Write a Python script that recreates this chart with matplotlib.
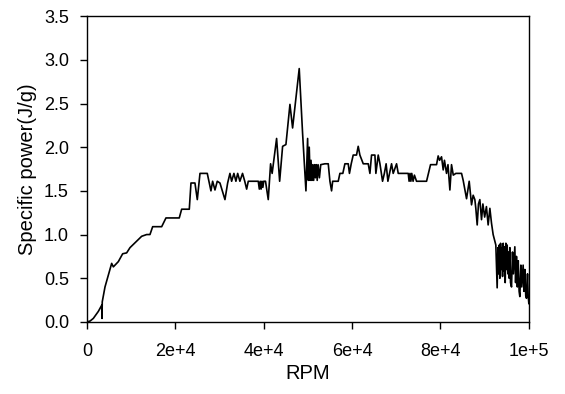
import matplotlib
matplotlib.use("Agg")
import matplotlib.pyplot as plt

plt.rcParams['font.family'] = ['Liberation Sans', 'DejaVu Sans']

# rpm vs specific power
rpm = [0, 0, 700, 1430, 2560, 3320, 3400, 3450, 4070, 5580, 5960, 7090, 8070, 8970, 9730,
       12370, 13500, 14250, 14860, 16900, 17870, 20880, 21420, 23150, 23530, 24430, 24960,
       25570, 27220, 28050, 28430, 28960, 29480, 30090, 31220, 31830, 32350, 32730, 33250,
       33700, 34100, 34600, 35200, 35700, 36130, 36500, 38760, 39000, 39200, 39400, 39600,
       39800, 40000, 40400, 41020, 41550, 41900, 42910, 43600, 44270, 45020, 45930, 46530,
       48030, 48790, 49550, 49930, 50100, 50300, 50500, 50700, 50900, 51100, 51300, 51500,
       51700, 51900, 52100, 52300, 52600, 52900, 53850, 54600, 54980, 55350, 55600, 56860,
       57240, 57900, 58370, 59120, 59400, 59800, 60250, 61000, 61380, 61760, 62520, 63650,
       64030, 64400, 65160, 65380, 65910, 66300, 66890, 67300, 67700, 68100, 68930, 69300,
       70060, 70440, 72700, 72900, 73100, 73300, 73500, 73800, 74100, 74580, 75000, 76850,
       77750, 79110, 79480, 79800, 80240, 80620, 80900, 81370, 81700, 82130, 82500, 82900,
       83480, 84770, 85140, 85900, 86500, 87030, 87400, 87780, 88000, 88310, 88600, 88910,
       89290, 89600, 90000, 90400, 90790, 91180, 91550, 91920, 92530, 92830, 93000, 93150,
       93300, 93450, 93600, 93750, 93900, 94050, 94200, 94350, 94500, 94650, 94800, 94950,
       95100, 95250, 95400, 95550, 95700, 95850, 96080, 96300, 96500, 96830, 97000, 97200,
       97400, 97600, 97800, 97960, 98200, 98400, 98710, 98900, 99100, 99300, 99470, 99700,
       99850, 100000]
power = [0.95, 0.0, 0.01, 0.04, 0.12, 0.19, 0.04, 0.23, 0.40, 0.67, 0.63, 0.69, 0.78, 0.79, 0.85,
         0.98, 1.00, 1.00, 1.09, 1.09, 1.19, 1.19, 1.29, 1.29, 1.59, 1.59, 1.40,
         1.70, 1.70, 1.50, 1.61, 1.51, 1.61, 1.59, 1.40, 1.59, 1.70, 1.61, 1.70,
         1.61, 1.70, 1.61, 1.70, 1.61, 1.52, 1.61, 1.61, 1.52, 1.61, 1.52, 1.61,
         1.54, 1.61, 1.61, 1.40, 1.81, 1.70, 2.10, 1.61, 2.01, 2.03, 2.49, 2.22,
         2.90, 2.16, 1.50, 2.10, 1.62, 2.00, 1.62, 1.85, 1.62, 1.80, 1.62, 1.80,
         1.65, 1.80, 1.62, 1.80, 1.65, 1.80, 1.81, 1.81, 1.61, 1.50, 1.61, 1.61,
         1.70, 1.70, 1.81, 1.81, 1.70, 1.81, 1.91, 1.91, 2.01, 1.91, 1.81, 1.81,
         1.70, 1.91, 1.91, 1.70, 1.91, 1.81, 1.61, 1.70, 1.81, 1.61, 1.81, 1.70,
         1.81, 1.70, 1.70, 1.61, 1.70, 1.61, 1.70, 1.61, 1.68, 1.61, 1.61, 1.61,
         1.80, 1.80, 1.90, 1.85, 1.89, 1.74, 1.85, 1.70, 1.80, 1.51, 1.80, 1.68,
         1.70, 1.70, 1.62, 1.41, 1.61, 1.34, 1.45, 1.40, 1.30, 1.11, 1.35, 1.40,
         1.17, 1.35, 1.20, 1.32, 1.11, 1.30, 1.13, 1.00, 0.88, 0.39, 0.85, 0.55,
         0.88, 0.50, 0.90, 0.60, 0.85, 0.52, 0.90, 0.58, 0.86, 0.45, 0.90, 0.60,
         0.88, 0.55, 0.80, 0.50, 0.85, 0.45, 0.40, 0.80, 0.55, 0.86, 0.45, 0.75,
         0.40, 0.70, 0.35, 0.29, 0.65, 0.40, 0.65, 0.35, 0.60, 0.30, 0.27, 0.55,
         0.30, 0.21]

xticks = [0, 20000, 40000, 60000, 80000, 100000]
xtick_labels = ['0', '2e+4', '4e+4', '6e+4', '8e+4', '1e+5']
yticks = [0.0, 0.5, 1.0, 1.5, 2.0, 2.5, 3.0, 3.5]

fig = plt.figure(figsize=(5.65, 3.94), dpi=100)
ax = fig.add_axes([0.154, 0.183, 0.782, 0.776])

ax.plot(rpm, power, color='black', linewidth=1.2)

ax.set_xlim(0, 100000)
ax.set_ylim(0, 3.5)
ax.set_xticks(xticks)
ax.set_xticklabels(xtick_labels)
ax.set_yticks(yticks)
ax.set_yticklabels(['%.1f' % v for v in yticks])
ax.tick_params(direction='out', length=5, width=1, labelsize=13)
ax.tick_params(axis='x', pad=10)
ax.tick_params(axis='y', pad=8)

ax.set_xlabel('RPM', fontsize=14.5, labelpad=3)
ax.set_ylabel('Specific power(J/g)', fontsize=14.5, labelpad=5)

for s in ax.spines.values():
    s.set_linewidth(1)
    s.set_color('black')

fig.savefig('out.png', dpi=100)
